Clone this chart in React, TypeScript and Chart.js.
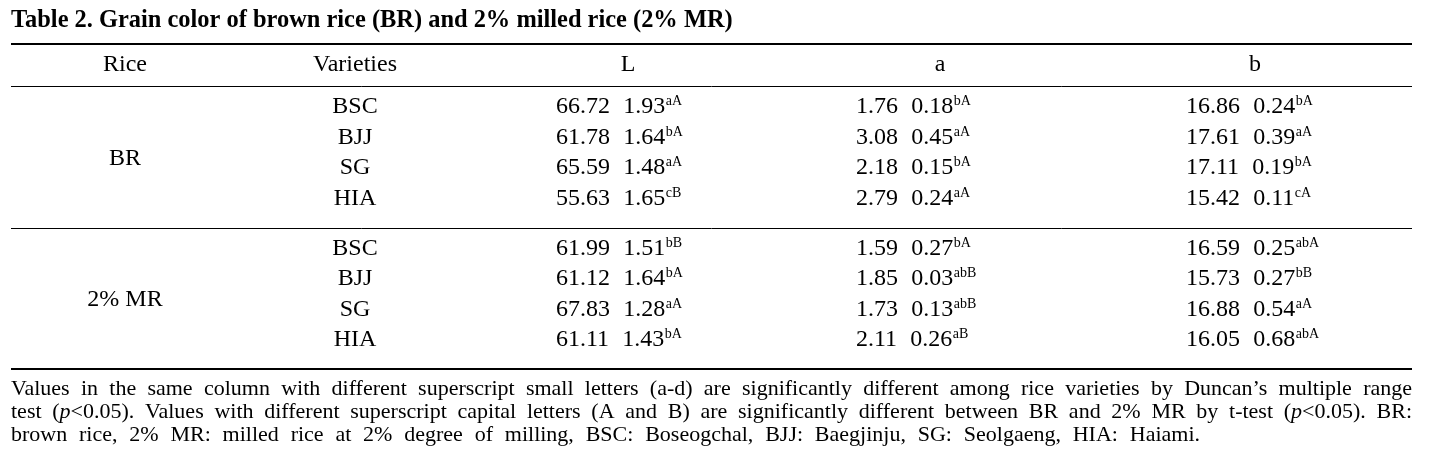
import React, { useEffect, useRef } from "react";
import { Chart, registerables } from "chart.js";

Chart.register(...registerables);

// ---------- DATA ----------
const TITLE = "Table 2. Grain color of brown rice (BR) and 2% milled rice (2% MR)";
const HEADERS = ["Rice", "Varieties", "L", "a", "b"];
const RICE = ["BR", "2% MR"];
const VARIETIES = ["BSC", "BJJ", "SG", "HIA"];

const L_MEAN = [66.72, 61.78, 65.59, 55.63, 61.99, 61.12, 67.83, 61.11];
const L_SD = [1.93, 1.64, 1.48, 1.65, 1.51, 1.64, 1.28, 1.43];
const L_SUP = ["aA", "bA", "aA", "cB", "bB", "bA", "aA", "bA"];

const A_MEAN = [1.76, 3.08, 2.18, 2.79, 1.59, 1.85, 1.73, 2.11];
const A_SD = [0.18, 0.45, 0.15, 0.24, 0.27, 0.03, 0.13, 0.26];
const A_SUP = ["bA", "aA", "bA", "aA", "bA", "abB", "abB", "aB"];

const B_MEAN = [16.86, 17.61, 17.11, 15.42, 16.59, 15.73, 16.88, 16.05];
const B_SD = [0.24, 0.39, 0.19, 0.11, 0.25, 0.27, 0.54, 0.68];
const B_SUP = ["bA", "aA", "bA", "cA", "abA", "bB", "aA", "abA"];

// _x_ marks italic text
const FOOTNOTE = [
  "Values in the same column with different superscript small letters (a-d) are significantly different among rice varieties by Duncan\u2019s multiple range",
  "test (_p_<0.05). Values with different superscript capital letters (A and B) are significantly different between BR and 2% MR by t-test (_p_<0.05). BR:",
  "brown rice, 2% MR: milled rice at 2% degree of milling, BSC: Boseogchal, BJJ: Baegjinju, SG: Seolgaeng, HIA: Haiami.",
];

// ---------- LAYOUT / STYLE ----------
const W = 1431;
const H = 457;
const FONT = "'Liberation Serif', 'Times New Roman', serif";
const LAYOUT = {
  left: 11,
  right: 1412,
  titleBaseline: 27,
  titleWidth: 722,
  topRule: 44,
  headerBaseline: 71,
  headRule: 86,
  bodyBottom: 369,
  groupSpan: 4.64, // row units per group (incl. padding)
  groupTopPad: 0.62, // centre of first row, in row units
  riceX: 125,
  varX: 355,
  headX: [628, 940, 1255],
  valueX: [556, 856, 1186],
  bodySize: 24,
  supSize: 14,
  supRaise: 8,
  footSize: 22,
  footLastEnd: 1200,
  footBaselines: [395, 418, 441],
};

function fmt(v: number) {
  return v.toFixed(2);
}

function drawCell(ctx: CanvasRenderingContext2D, x: number, y: number, mean: number, sd: number, sup: string) {
  ctx.font = `${LAYOUT.bodySize}px ${FONT}`;
  ctx.textAlign = "left";
  const m = fmt(mean);
  ctx.fillText(m, x, y);
  let cx = x + ctx.measureText(m).width + ctx.measureText("\u00b1").width;
  const s = fmt(sd);
  ctx.fillText(s, cx, y);
  cx += ctx.measureText(s).width;
  ctx.font = `${LAYOUT.supSize}px ${FONT}`;
  ctx.fillText(sup, cx + 0.5, y - LAYOUT.supRaise);
}

type Run = { t: string; it: boolean };
function parseWord(w: string): Run[] {
  const parts = w.split("_");
  const runs: Run[] = [];
  parts.forEach((p, i) => {
    if (p.length) runs.push({ t: p, it: i % 2 === 1 });
  });
  return runs;
}

function runFont(it: boolean) {
  return `${it ? "italic " : ""}${LAYOUT.footSize}px ${FONT}`;
}

function wordWidth(ctx: CanvasRenderingContext2D, runs: Run[]) {
  let w = 0;
  runs.forEach((r) => {
    ctx.font = runFont(r.it);
    w += ctx.measureText(r.t).width;
  });
  return w;
}

// every line is spread between the left edge and its end point
function drawFootLine(ctx: CanvasRenderingContext2D, line: string, y: number, end: number) {
  const words = line.split(" ").map(parseWord);
  const widths = words.map((w) => wordWidth(ctx, w));
  const total = widths.reduce((a, b) => a + b, 0);
  const gap = (end - LAYOUT.left - total) / Math.max(1, words.length - 1);
  let x = LAYOUT.left;
  words.forEach((runs, i) => {
    runs.forEach((r) => {
      ctx.font = runFont(r.it);
      ctx.fillText(r.t, x, y);
      x += ctx.measureText(r.t).width;
    });
    if (i < words.length - 1) x += gap;
  });
}

const tablePlugin = {
  id: "tablePlugin",
  beforeDraw(chart: any) {
    const ctx: CanvasRenderingContext2D = chart.ctx;
    ctx.save();
    ctx.fillStyle = "#ffffff";
    ctx.fillRect(0, 0, chart.width, chart.height);
    ctx.restore();
  },
  afterDraw(chart: any) {
    const ctx: CanvasRenderingContext2D = chart.ctx;
    const yScale = chart.scales.y;
    ctx.save();
    ctx.fillStyle = "#000";
    ctx.strokeStyle = "#000";
    ctx.textBaseline = "alphabetic";

    // title (bold), fitted to width
    ctx.font = `bold 100px ${FONT}`;
    const tw = ctx.measureText(TITLE).width;
    const tsize = (100 * LAYOUT.titleWidth) / tw;
    ctx.font = `bold ${tsize}px ${FONT}`;
    ctx.textAlign = "left";
    ctx.fillText(TITLE, LAYOUT.left, LAYOUT.titleBaseline);

    // rules
    const hline = (y: number, w: number) => {
      ctx.lineWidth = w;
      ctx.beginPath();
      ctx.moveTo(LAYOUT.left, y);
      ctx.lineTo(LAYOUT.right, y);
      ctx.stroke();
    };
    hline(LAYOUT.topRule, 2);
    hline(LAYOUT.headRule + 0.5, 1);
    for (let g = 1; g < RICE.length; g++) {
      const gl = yScale.getPixelForValue(g * LAYOUT.groupSpan);
      hline(Math.round(gl) + 0.5, 1);
    }
    hline(LAYOUT.bodyBottom, 2);

    // header
    ctx.font = `${LAYOUT.bodySize}px ${FONT}`;
    ctx.textAlign = "center";
    ctx.fillText(HEADERS[0], LAYOUT.riceX, LAYOUT.headerBaseline);
    ctx.fillText(HEADERS[1], LAYOUT.varX, LAYOUT.headerBaseline);
    LAYOUT.headX.forEach((x, i) => ctx.fillText(HEADERS[2 + i], x, LAYOUT.headerBaseline));

    // body
    const base = (v: number) => yScale.getPixelForValue(v) + LAYOUT.bodySize * 0.34;
    RICE.forEach((r, g) => {
      ctx.font = `${LAYOUT.bodySize}px ${FONT}`;
      ctx.textAlign = "center";
      ctx.fillText(r, LAYOUT.riceX, base(g * LAYOUT.groupSpan + LAYOUT.groupSpan / 2));
      VARIETIES.forEach((v, j) => {
        const i = g * VARIETIES.length + j;
        const y = base(g * LAYOUT.groupSpan + LAYOUT.groupTopPad + j);
        ctx.font = `${LAYOUT.bodySize}px ${FONT}`;
        ctx.textAlign = "center";
        ctx.fillText(v, LAYOUT.varX, y);
        drawCell(ctx, LAYOUT.valueX[0], y, L_MEAN[i], L_SD[i], L_SUP[i]);
        drawCell(ctx, LAYOUT.valueX[1], y, A_MEAN[i], A_SD[i], A_SUP[i]);
        drawCell(ctx, LAYOUT.valueX[2], y, B_MEAN[i], B_SD[i], B_SUP[i]);
      });
    });

    // footnote
    ctx.textAlign = "left";
    FOOTNOTE.forEach((line, i) => {
      const end = i < FOOTNOTE.length - 1 ? LAYOUT.right : LAYOUT.footLastEnd;
      drawFootLine(ctx, line, LAYOUT.footBaselines[i], end);
    });
    ctx.restore();
  },
};

export default function App() {
  const ref = useRef<HTMLCanvasElement | null>(null);
  useEffect(() => {
    document.body.style.margin = "0";
    document.body.style.background = "#fff";
    const canvas = ref.current;
    if (!canvas) return;
    const chart = new Chart(canvas, {
      type: "scatter",
      data: { datasets: [{ data: [], pointRadius: 0 }] },
      options: {
        animation: false,
        responsive: false,
        devicePixelRatio: 1,
        events: [],
        layout: {
          padding: { top: LAYOUT.headRule, bottom: H - LAYOUT.bodyBottom, left: 0, right: 0 },
        },
        plugins: { legend: { display: false }, tooltip: { enabled: false }, title: { display: false } },
        scales: {
          x: { display: false, min: 0, max: 1 },
          y: { display: false, min: 0, max: RICE.length * LAYOUT.groupSpan, reverse: true },
        },
      },
      plugins: [tablePlugin],
    });
    return () => chart.destroy();
  }, []);
  return (
    <div style={{ width: W, height: H }}>
      <canvas ref={ref} width={W} height={H} style={{ display: "block", width: W, height: H }} />
    </div>
  );
}
